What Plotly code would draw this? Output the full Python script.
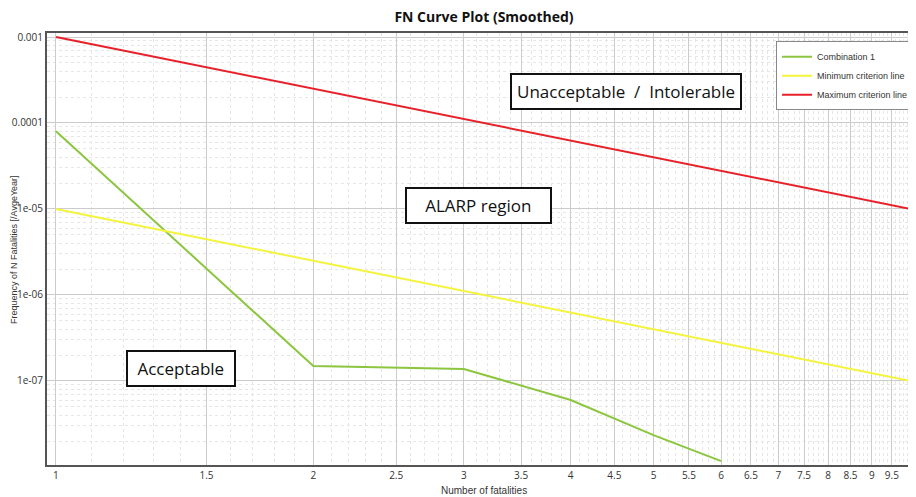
import plotly.graph_objects as go
import numpy as np

# Data
n_fatalities = [1, 2, 3, 4, 5, 6, 7, 8, 9, 10]
combination_n = [1, 2, 3, 4, 5, 6]
combination_f = [8.0e-5, 1.49e-7, 1.38e-7, 6.0e-8, 2.35e-8, 1.17e-8]
min_criterion = [1e-5, 2.5e-6, 1.11e-6, 6.25e-7, 4.0e-7, 2.78e-7, 2.04e-7, 1.56e-7, 1.23e-7, 1e-7]
max_criterion = [1e-3, 2.5e-4, 1.11e-4, 6.25e-5, 4.0e-5, 2.78e-5, 2.04e-5, 1.56e-5, 1.23e-5, 1e-5]

x_ticks = [1, 1.5, 2, 2.5, 3, 3.5, 4, 4.5, 5, 5.5, 6, 6.5, 7, 7.5, 8, 8.5, 9, 9.5, 10]
x_tick_labels = ["1", "1.5", "2", "2.5", "3", "3.5", "4", "4.5", "5", "5.5", "6", "6.5",
                 "7", "7.5", "8", "8.5", "9", "9.5", "10"]
y_ticks = [1e-3, 1e-4, 1e-5, 1e-6, 1e-7]
y_tick_labels = ["0.001", "0.0001", "1e-05", "1e-06", "1e-07"]

x_minor = [round(v, 1) for v in np.arange(1.0, 10.05, 0.1)]
y_minor = [m * 10.0 ** e for e in range(-9, -2) for m in range(2, 10)]

fig = go.Figure()
fig.add_trace(go.Scatter(x=combination_n, y=combination_f, mode="lines",
                         name="Combination 1", line=dict(color="#8cc63f", width=2)))
fig.add_trace(go.Scatter(x=n_fatalities, y=min_criterion, mode="lines",
                         name="Minimum criterion line", line=dict(color="#f4f43c", width=2)))
fig.add_trace(go.Scatter(x=n_fatalities, y=max_criterion, mode="lines",
                         name="Maximum criterion line", line=dict(color="#e8202a", width=2)))

font_family = "Open Sans, Noto Sans, sans-serif"
small_family = "Liberation Sans, Arial, sans-serif"

# page body has an 8px margin, so the figure is 8px smaller than the window
W, H = 908, 489
L, T, B = 39, 25, 32
PW, PH = W - L, H - T - B

fig.update_layout(
    width=W, height=H,
    margin=dict(l=L, r=0, t=T, b=B, autoexpand=False),
    paper_bgcolor="white", plot_bgcolor="white",
    font=dict(family=font_family, color="#333333", size=10),
    title=dict(text="<b>FN Curve Plot (Smoothed)</b>", x=476 / W, xanchor="center",
               y=1 - 9 / H, yanchor="middle", font=dict(size=14, color="#111111")),
    showlegend=True,
    legend=dict(x=(906 - L) / PW, y=0.981, xanchor="right", yanchor="top",
                bgcolor="white", bordercolor="#888888", borderwidth=1,
                font=dict(size=9, color="#333333", family=small_family),
                itemwidth=30, tracegroupgap=0),
    xaxis=dict(type="log", range=[-0.0105, 1.006], automargin=False,
               tickmode="array", tickvals=x_ticks, ticktext=x_tick_labels,
               tickfont=dict(size=10), ticks="", showline=True, linecolor="#555555",
               linewidth=2, mirror=True, showgrid=True, gridcolor="#cccccc", gridwidth=1,
               zeroline=False,
               minor=dict(tickmode="array", tickvals=x_minor, showgrid=True,
                          gridcolor="#e6e6e6", griddash="dot", gridwidth=1)),
    yaxis=dict(type="log", range=[-7.977, -2.9535], automargin=False,
               tickmode="array", tickvals=y_ticks, ticktext=y_tick_labels,
               tickfont=dict(size=10), ticks="", showline=True, linecolor="#555555",
               linewidth=2, mirror=True, showgrid=True, gridcolor="#cccccc", gridwidth=1,
               zeroline=False,
               minor=dict(tickmode="array", tickvals=y_minor, showgrid=True,
                          gridcolor="#e6e6e6", griddash="dot", gridwidth=1)),
)

# axis titles placed precisely
fig.add_annotation(text="Number of fatalities", xref="paper", yref="paper",
                   x=(476 - L) / PW, y=(H - B - 482) / PH, showarrow=False,
                   xanchor="center", yanchor="middle",
                   font=dict(size=10, color="#333333", family=small_family))
fig.add_annotation(text="Frequency of N Fatalities [/AvgeYear]", xref="paper", yref="paper",
                   x=(6 - L) / PW, y=(H - B - 242) / PH, showarrow=False, textangle=-90,
                   xanchor="center", yanchor="middle",
                   font=dict(size=9, color="#333333", family=small_family))

def px_to_paper_x(px):
    return (px - 47) / PW

def px_to_paper_y(py):
    return (465 - py) / PH

nb = "\u00a0"
boxes = [
    ("Unacceptable  /  Intolerable", 626, 91),
    (nb * 3 + "ALARP region" + nb * 3, 478, 206),
    (nb + "Acceptable" + nb, 181, 368),
]
for text, cx, cy in boxes:
    fig.add_annotation(text=text, x=px_to_paper_x(cx), y=px_to_paper_y(cy),
                       xref="paper", yref="paper", showarrow=False,
                       xanchor="center", yanchor="middle",
                       font=dict(size=17, color="#111111", family=font_family),
                       bgcolor="white", bordercolor="#111111", borderwidth=2,
                       borderpad=5)

fig.write_html("out.html")
